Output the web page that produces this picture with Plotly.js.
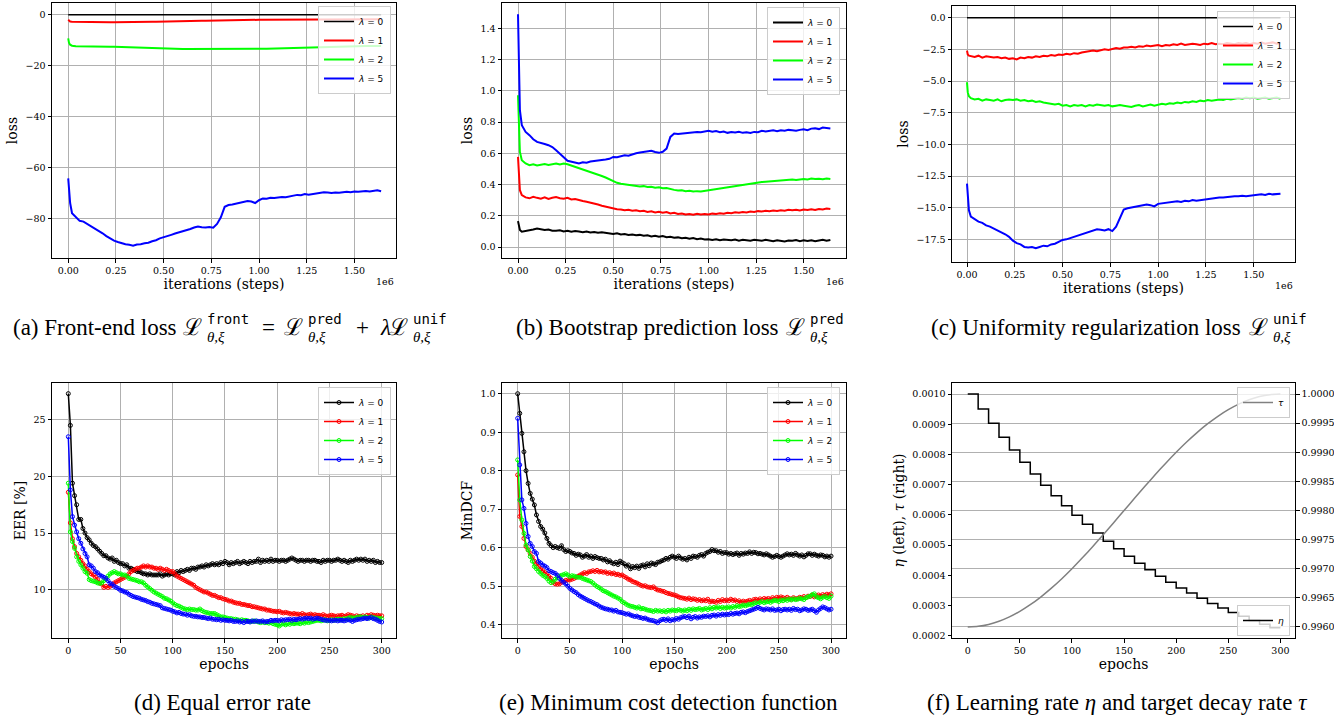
<!DOCTYPE html>
<html><head><meta charset="utf-8">
<script src="https://cdn.plot.ly/plotly-3.0.1.min.js"></script>
<style>html,body{margin:0;padding:0;background:#fff}#chart{width:1334px;height:720px}</style>
</head><body><div id="chart"></div>
<script>
// ---------- iterations (x 1e6) for the loss curves ----------
const ITER = [0,0.004,0.01,0.02,
0.04,0.06,0.08,0.10,0.12,0.14,0.16,0.18,0.20,0.22,
0.24,0.26,0.28,0.30,0.32,0.34,0.36,0.38,0.40,0.42,
0.44,0.46,0.48,0.50,0.52,0.54,0.56,0.58,0.60,0.62,
0.64,0.66,0.68,0.70,0.72,0.74,0.76,0.78,0.80,0.82,
0.84,0.86,0.88,0.90,0.92,0.94,0.96,0.98,1.00,1.02,
1.04,1.06,1.08,1.10,1.12,1.14,1.16,1.18,1.20,1.22,
1.24,1.26,1.28,1.30,1.32,1.34,1.36,1.38,1.40,1.42,
1.44,1.46,1.48,1.50,1.52,1.54,1.56,1.58,1.60,1.62,
1.64];
const ZERO_ITER = [0, 1.64];
const ZERO_LOSS = [0, 0];

// (a) front-end loss
const FRONT_L1 = [-2.0,-2.4,-2.65,-2.75,
-2.8,-2.75,-2.8,-2.85,-2.8,-2.85,-2.9,-2.85,-2.9,-2.95,
-2.95,-2.9,-2.95,-2.9,-2.9,-2.85,-2.85,-2.8,-2.8,-2.75,
-2.75,-2.75,-2.7,-2.7,-2.7,-2.65,-2.6,-2.6,-2.55,-2.55,
-2.5,-2.5,-2.45,-2.4,-2.4,-2.35,-2.3,-2.25,-2.2,-2.2,
-2.15,-2.15,-2.1,-2.1,-2.1,-2.05,-2.05,-2.0,-2.0,-1.98,
-1.98,-1.95,-1.95,-1.93,-1.92,-1.9,-1.9,-1.88,-1.88,-1.87,
-1.86,-1.85,-1.85,-1.84,-1.83,-1.83,-1.82,-1.82,-1.81,-1.8,
-1.8,-1.8,-1.79,-1.79,-1.78,-1.78,-1.78,-1.77,-1.77,-1.77,
-1.77];
const FRONT_L2 = [-9.3,-11.0,-11.8,-12.2,
-12.4,-12.45,-12.5,-12.5,-12.55,-12.5,-12.6,-12.55,-12.6,-12.6,
-12.6,-12.65,-12.7,-12.7,-12.8,-12.9,-13.0,-13.1,-13.2,-13.25,
-13.3,-13.4,-13.45,-13.5,-13.5,-13.55,-13.5,-13.5,-13.5,-13.45,
-13.45,-13.4,-13.45,-13.4,-13.45,-13.5,-13.5,-13.55,-13.5,-13.55,
-13.6,-13.6,-13.65,-13.6,-13.6,-13.55,-13.5,-13.45,-13.4,-13.4,
-13.35,-13.3,-13.3,-13.3,-13.2,-13.15,-13.1,-13.05,-13.0,-12.95,
-12.9,-12.85,-12.8,-12.8,-12.7,-12.65,-12.6,-12.55,-12.5,-12.5,
-12.45,-12.4,-12.35,-12.3,-12.3,-12.3,-12.3,-12.3,-12.25,-12.3,
-12.3];
const FRONT_L5 = [-64.3,-68,-74,-78,
-79.5,-81.0,-81.3,-82.2,-83.0,-84.0,-84.8,-85.9,-87.0,-88.0,
-88.8,-89.3,-89.9,-90.2,-90.4,-90.8,-90.3,-90.2,-89.8,-89.6,
-89.0,-88.6,-87.9,-87.5,-86.9,-86.5,-86.0,-85.6,-85.3,-84.9,
-84.2,-83.6,-83.2,-83.5,-83.6,-83.4,-83.7,-82.2,-79.6,-75.5,
-74.8,-74.6,-74.3,-73.9,-73.6,-73.2,-73.4,-74.0,-72.9,-72.2,
-72.3,-71.9,-72.0,-71.8,-71.6,-71.7,-71.3,-71.0,-70.8,-70.9,
-70.5,-70.7,-70.4,-70.3,-70.1,-69.8,-69.9,-70.1,-69.9,-70.0,
-69.8,-69.6,-69.8,-69.5,-69.6,-69.4,-69.3,-69.5,-69.2,-69.0,
-69.4];

// (b) bootstrap prediction loss
const PRED_L0 = [0.166,0.13,0.109,0.098,
0.102,0.104,0.112,0.119,0.115,0.109,0.112,0.105,0.104,0.108,
0.1,0.104,0.098,0.102,0.099,0.095,0.1,0.094,0.097,0.092,
0.095,0.09,0.086,0.083,0.088,0.08,0.083,0.077,0.08,0.076,
0.078,0.072,0.075,0.068,0.072,0.066,0.07,0.063,0.066,0.06,
0.062,0.057,0.06,0.053,0.058,0.05,0.054,0.048,0.05,0.046,
0.05,0.044,0.049,0.046,0.043,0.048,0.041,0.046,0.045,0.04,
0.047,0.043,0.04,0.046,0.042,0.038,0.044,0.04,0.036,0.042,
0.04,0.045,0.038,0.043,0.039,0.044,0.037,0.042,0.046,0.04,
0.045];
const PRED_L1 = [0.577,0.45,0.364,0.333,
0.318,0.312,0.322,0.315,0.31,0.318,0.308,0.315,0.32,0.312,
0.31,0.315,0.305,0.308,0.3,0.295,0.29,0.285,0.278,0.272,
0.265,0.258,0.252,0.247,0.242,0.24,0.235,0.238,0.232,0.235,
0.23,0.232,0.225,0.229,0.222,0.226,0.22,0.224,0.215,0.219,
0.212,0.215,0.208,0.212,0.207,0.213,0.209,0.212,0.208,0.214,
0.212,0.216,0.213,0.219,0.216,0.222,0.219,0.224,0.222,0.228,
0.225,0.23,0.228,0.233,0.23,0.234,0.231,0.236,0.233,0.238,
0.235,0.239,0.234,0.24,0.237,0.242,0.238,0.244,0.24,0.246,
0.243];
const PRED_L2 = [0.972,0.75,0.609,0.556,
0.535,0.524,0.53,0.522,0.528,0.532,0.525,0.53,0.535,0.528,
0.535,0.53,0.522,0.514,0.505,0.498,0.49,0.483,0.475,0.467,
0.455,0.445,0.432,0.42,0.411,0.405,0.402,0.398,0.395,0.392,
0.388,0.39,0.384,0.386,0.38,0.383,0.376,0.378,0.37,0.366,
0.362,0.364,0.358,0.36,0.355,0.358,0.356,0.36,0.362,0.366,
0.37,0.373,0.376,0.381,0.384,0.388,0.392,0.398,0.403,0.405,
0.409,0.412,0.416,0.418,0.42,0.422,0.42,0.425,0.428,0.43,
0.432,0.429,0.434,0.436,0.433,0.438,0.435,0.437,0.434,0.438,
0.435];
const PRED_L5 = [1.49,1.2,0.876,0.78,
0.737,0.716,0.69,0.673,0.668,0.66,0.652,0.64,0.62,0.6,
0.575,0.552,0.545,0.539,0.535,0.543,0.54,0.548,0.55,0.552,
0.558,0.56,0.565,0.577,0.575,0.58,0.588,0.585,0.594,0.6,
0.605,0.609,0.612,0.616,0.608,0.603,0.61,0.63,0.705,0.727,
0.724,0.727,0.73,0.731,0.734,0.737,0.735,0.74,0.744,0.738,
0.742,0.735,0.74,0.731,0.736,0.733,0.738,0.731,0.735,0.73,
0.737,0.735,0.744,0.74,0.745,0.748,0.742,0.748,0.745,0.75,
0.748,0.744,0.75,0.754,0.748,0.758,0.761,0.755,0.765,0.76,
0.759];

// (c) uniformity regularization loss
const UNIF_L1 = [-2.6,-2.9,-3.0,-3.05,
-3.1,-3.0,-3.15,-3.05,-3.1,-3.15,-3.1,-3.2,-3.15,-3.25,
-3.2,-3.3,-3.15,-3.2,-3.1,-3.15,-3.05,-3.1,-3.0,-3.05,
-2.95,-3.0,-2.9,-2.95,-2.85,-2.9,-2.8,-2.85,-2.75,-2.7,
-2.7,-2.6,-2.65,-2.55,-2.5,-2.55,-2.45,-2.4,-2.45,-2.35,
-2.35,-2.3,-2.35,-2.25,-2.3,-2.2,-2.25,-2.2,-2.15,-2.25,
-2.15,-2.2,-2.1,-2.15,-2.05,-2.15,-2.1,-2.05,-2.1,-2.15,
-2.05,-2.1,-2.0,-2.1,-2.05,-2.1,-2.0,-2.05,-2.1,-2.0,
-2.05,-2.0,-2.1,-2.0,-2.05,-1.95,-2.05,-2.0,-1.95,-2.05,
-2.0];
const UNIF_L2 = [-5.1,-5.9,-6.2,-6.35,
-6.45,-6.4,-6.55,-6.45,-6.5,-6.55,-6.45,-6.6,-6.5,-6.45,
-6.5,-6.45,-6.55,-6.5,-6.6,-6.55,-6.65,-6.6,-6.7,-6.75,
-6.75,-6.85,-6.8,-6.95,-6.9,-7.0,-6.9,-6.95,-6.9,-7.0,
-6.9,-6.95,-6.85,-6.9,-6.95,-6.9,-7.0,-6.95,-6.9,-6.95,
-7.0,-7.05,-6.95,-6.9,-7.0,-6.9,-6.85,-6.95,-6.85,-6.8,
-6.85,-6.75,-6.8,-6.7,-6.75,-6.65,-6.7,-6.6,-6.65,-6.55,
-6.6,-6.5,-6.55,-6.5,-6.45,-6.5,-6.4,-6.45,-6.4,-6.35,
-6.4,-6.3,-6.35,-6.3,-6.4,-6.35,-6.3,-6.4,-6.35,-6.3,
-6.4];
const UNIF_L5 = [-13.1,-14.3,-15.2,-15.7,
-15.9,-16.1,-16.2,-16.4,-16.5,-16.65,-16.8,-16.9,-17.1,-17.3,
-17.6,-17.8,-17.9,-18.1,-18.15,-18.1,-18.2,-18.1,-18.0,-18.05,
-17.9,-17.85,-17.7,-17.55,-17.5,-17.4,-17.3,-17.25,-17.1,-17.05,
-16.9,-16.8,-16.7,-16.75,-16.8,-16.7,-16.85,-16.5,-15.8,-15.15,
-15.05,-15.0,-14.95,-14.85,-14.8,-14.75,-14.8,-14.9,-14.7,-14.65,
-14.6,-14.6,-14.55,-14.5,-14.55,-14.45,-14.5,-14.4,-14.45,-14.4,
-14.35,-14.3,-14.3,-14.25,-14.2,-14.2,-14.15,-14.15,-14.1,-14.1,
-14.05,-14.1,-14.05,-14.0,-14.0,-13.95,-14.0,-13.9,-13.95,-13.9,
-13.9];

// ---------- epochs for EER / MinDCF ----------
const EPOCHS = [0,2,4,6,8,10,12,14,16,18,
20,22,24,26,28,30,32,34,36,38,
40,42,44,46,48,50,52,54,56,58,
60,62,64,66,68,70,72,74,76,78,
80,82,84,86,88,90,92,94,96,98,
100,102,104,106,108,110,112,114,116,118,
120,122,124,126,128,130,132,134,136,138,
140,142,144,146,148,150,152,154,156,158,
160,162,164,166,168,170,172,174,176,178,
180,182,184,186,188,190,192,194,196,198,
200,202,204,206,208,210,212,214,216,218,
220,222,224,226,228,230,232,234,236,238,
240,242,244,246,248,250,252,254,256,258,
260,262,264,266,268,270,272,274,276,278,
280,282,284,286,288,290,292,294,296,298,
300];

// (d) EER [%]
const EER_L0 = [27.3,24.5,19.4,18.3,17.5,16.2,16.2,15.4,15.0,14.6,
14.4,14.1,13.9,13.8,13.6,13.4,13.2,13.0,13.0,12.8,
12.7,12.8,12.5,12.6,12.4,12.3,12.3,12.1,12.2,11.9,
11.9,11.8,11.7,11.6,11.6,11.5,11.4,11.4,11.3,11.4,
11.3,11.3,11.3,11.3,11.4,11.2,11.3,11.4,11.3,11.4,
11.4,11.3,11.6,11.5,11.7,11.6,11.7,11.8,11.7,11.9,
11.9,11.8,12.0,12.0,12.1,12.0,12.2,12.1,12.2,12.3,
12.2,12.3,12.2,12.4,12.3,12.5,12.4,12.2,12.4,12.3,
12.4,12.5,12.3,12.4,12.5,12.4,12.3,12.5,12.4,12.5,
12.5,12.7,12.4,12.6,12.5,12.6,12.5,12.7,12.5,12.6,
12.6,12.5,12.6,12.6,12.5,12.6,12.7,12.8,12.7,12.6,
12.5,12.6,12.6,12.5,12.6,12.6,12.5,12.6,12.6,12.5,
12.5,12.4,12.6,12.5,12.6,12.6,12.5,12.6,12.6,12.7,
12.6,12.5,12.6,12.5,12.4,12.6,12.5,12.6,12.7,12.6,
12.7,12.6,12.7,12.5,12.6,12.5,12.6,12.4,12.5,12.4,
12.4];
const EER_L1 = [18.6,15.9,14.5,13.8,13.2,12.9,12.6,12.3,12.1,11.8,
11.6,11.4,11.3,11.1,10.9,10.6,10.5,10.2,10.3,10.2,
10.3,10.4,10.6,10.7,10.8,10.9,11.0,11.1,11.2,11.4,
11.6,11.7,11.8,11.9,11.9,12.0,12.1,12.0,12.1,12.0,
12.0,11.9,11.9,11.8,11.9,11.8,11.7,11.8,11.7,11.6,
11.6,11.4,11.2,11.1,11.0,10.9,10.8,10.7,10.6,10.5,
10.4,10.2,10.1,10.0,9.9,9.8,9.8,9.7,9.6,9.5,
9.5,9.4,9.3,9.3,9.2,9.15,9.1,9.0,9.0,8.9,
8.85,8.8,8.8,8.7,8.7,8.65,8.6,8.6,8.5,8.5,
8.45,8.4,8.35,8.3,8.3,8.2,8.2,8.15,8.1,8.1,
8.05,8.1,8.0,7.95,8.0,7.95,7.9,7.85,7.9,7.85,
7.85,7.8,7.9,7.8,7.75,7.8,7.85,7.75,7.8,7.75,
7.75,7.7,7.8,7.7,7.65,7.7,7.75,7.7,7.65,7.7,
7.7,7.75,7.65,7.7,7.8,7.75,7.7,7.6,7.7,7.65,
7.65,7.7,7.6,7.75,7.7,7.8,7.75,7.7,7.75,7.7,
7.7];
const EER_L2 = [19.4,15.1,14.25,13.65,12.9,12.5,12.2,11.9,11.6,11.45,
10.9,10.8,10.75,10.7,10.6,10.55,10.6,10.8,10.9,11.2,
11.4,11.5,11.6,11.5,11.4,11.4,11.3,11.3,11.2,11.0,
10.95,10.9,10.85,10.8,10.7,10.7,10.6,10.4,10.25,10.1,
9.95,9.8,9.7,9.6,9.5,9.4,9.25,9.2,9.1,9.0,
8.85,8.7,8.6,8.55,8.45,8.35,8.3,8.25,8.3,8.25,
8.25,8.2,8.2,8.3,8.15,8.05,8.0,7.95,7.9,7.9,
7.9,7.8,7.7,7.6,7.6,7.55,7.5,7.45,7.45,7.4,
7.4,7.35,7.3,7.35,7.3,7.3,7.25,7.2,7.2,7.25,
7.2,7.15,7.1,7.15,7.1,7.1,7.05,7.1,7.0,6.95,
6.9,6.8,6.95,7.0,6.9,7.0,6.95,7.05,7.0,7.05,
7.05,7.0,7.1,7.05,7.15,7.1,7.15,7.2,7.25,7.3,
7.3,7.25,7.3,7.35,7.25,7.3,7.35,7.3,7.35,7.4,
7.4,7.35,7.45,7.4,7.5,7.55,7.5,7.5,7.55,7.6,
7.6,7.55,7.6,7.55,7.5,7.6,7.55,7.5,7.5,7.45,
7.45];
const EER_L5 = [23.5,18.8,16.45,15.7,15.1,14.5,14.1,13.6,13.2,12.9,
12.2,12.1,11.9,11.6,11.5,11.3,11.2,11.1,11.0,10.8,
10.55,10.5,10.3,10.2,10.1,9.95,9.9,9.8,9.75,9.6,
9.5,9.4,9.35,9.3,9.25,9.15,9.1,9.05,8.95,8.9,
8.8,8.75,8.7,8.65,8.6,8.4,8.35,8.3,8.25,8.2,
8.1,8.05,7.95,8.0,7.9,7.85,7.85,7.75,7.8,7.7,
7.65,7.65,7.6,7.6,7.55,7.55,7.5,7.45,7.5,7.4,
7.4,7.35,7.4,7.3,7.35,7.3,7.3,7.25,7.3,7.2,
7.2,7.25,7.15,7.2,7.1,7.2,7.2,7.15,7.25,7.2,
7.25,7.2,7.2,7.25,7.15,7.2,7.2,7.3,7.25,7.3,
7.3,7.25,7.35,7.3,7.35,7.35,7.4,7.3,7.4,7.35,
7.4,7.45,7.4,7.45,7.5,7.45,7.5,7.4,7.45,7.5,
7.45,7.4,7.35,7.3,7.3,7.3,7.25,7.3,7.3,7.25,
7.3,7.3,7.25,7.3,7.35,7.3,7.2,7.3,7.35,7.4,
7.4,7.45,7.5,7.45,7.5,7.55,7.45,7.4,7.3,7.2,
7.15];

// (e) MinDCF
const DCF_L0 = [1.0,0.949,0.897,0.849,0.80,0.767,0.741,0.726,0.711,0.685,
0.668,0.655,0.648,0.638,0.624,0.611,0.605,0.60,0.603,0.60,
0.598,0.605,0.595,0.59,0.592,0.59,0.586,0.585,0.58,0.583,
0.581,0.575,0.578,0.582,0.575,0.578,0.572,0.577,0.574,0.572,
0.572,0.568,0.57,0.563,0.566,0.561,0.558,0.562,0.556,0.565,
0.561,0.558,0.552,0.555,0.545,0.551,0.548,0.552,0.546,0.553,
0.555,0.55,0.558,0.553,0.56,0.558,0.556,0.562,0.563,0.566,
0.568,0.572,0.57,0.575,0.578,0.575,0.572,0.578,0.573,0.57,
0.572,0.568,0.575,0.572,0.578,0.577,0.575,0.58,0.582,0.578,
0.585,0.588,0.59,0.595,0.592,0.592,0.588,0.59,0.585,0.587,
0.587,0.583,0.585,0.582,0.584,0.586,0.58,0.585,0.583,0.586,
0.585,0.589,0.585,0.588,0.587,0.584,0.585,0.583,0.581,0.584,
0.581,0.578,0.575,0.577,0.58,0.577,0.575,0.578,0.581,0.584,
0.581,0.583,0.58,0.585,0.581,0.578,0.581,0.576,0.58,0.584,
0.584,0.58,0.583,0.58,0.578,0.581,0.58,0.576,0.578,0.575,
0.578];
const DCF_L1 = [0.789,0.681,0.655,0.624,0.603,0.594,0.585,0.575,0.565,0.558,
0.551,0.545,0.54,0.535,0.532,0.525,0.52,0.51,0.506,0.505,
0.506,0.51,0.512,0.515,0.516,0.516,0.518,0.52,0.523,0.526,
0.529,0.532,0.535,0.533,0.537,0.538,0.54,0.538,0.541,0.537,
0.538,0.536,0.537,0.533,0.535,0.532,0.534,0.53,0.531,0.528,
0.529,0.525,0.522,0.518,0.516,0.512,0.51,0.508,0.505,0.502,
0.50,0.501,0.498,0.497,0.496,0.498,0.493,0.49,0.489,0.487,
0.486,0.483,0.481,0.48,0.478,0.477,0.475,0.472,0.47,0.469,
0.468,0.466,0.469,0.465,0.467,0.466,0.463,0.465,0.462,0.464,
0.462,0.466,0.459,0.461,0.46,0.458,0.463,0.46,0.465,0.462,
0.464,0.462,0.466,0.463,0.464,0.46,0.462,0.458,0.461,0.459,
0.461,0.463,0.46,0.465,0.466,0.463,0.467,0.464,0.468,0.466,
0.468,0.465,0.47,0.467,0.471,0.469,0.472,0.47,0.468,0.471,
0.468,0.466,0.47,0.467,0.468,0.471,0.469,0.473,0.47,0.474,
0.473,0.476,0.472,0.475,0.477,0.474,0.478,0.476,0.479,0.477,
0.48];
const DCF_L2 = [0.828,0.724,0.672,0.637,0.607,0.594,0.577,0.565,0.551,0.545,
0.538,0.533,0.528,0.525,0.52,0.513,0.509,0.512,0.518,0.522,
0.526,0.528,0.53,0.532,0.529,0.525,0.527,0.526,0.524,0.523,
0.523,0.52,0.518,0.516,0.514,0.512,0.508,0.503,0.499,0.496,
0.492,0.488,0.486,0.483,0.48,0.477,0.474,0.472,0.469,0.466,
0.46,0.457,0.453,0.45,0.448,0.447,0.445,0.443,0.446,0.441,
0.442,0.44,0.438,0.437,0.436,0.434,0.437,0.435,0.436,0.434,
0.436,0.433,0.437,0.435,0.438,0.437,0.436,0.439,0.437,0.435,
0.438,0.436,0.44,0.437,0.441,0.439,0.44,0.442,0.438,0.44,
0.442,0.439,0.444,0.441,0.445,0.443,0.446,0.442,0.445,0.443,
0.444,0.446,0.443,0.447,0.445,0.449,0.447,0.448,0.451,0.449,
0.451,0.453,0.452,0.455,0.457,0.455,0.458,0.46,0.457,0.459,
0.46,0.458,0.461,0.463,0.462,0.46,0.464,0.462,0.465,0.463,
0.466,0.464,0.467,0.465,0.466,0.468,0.467,0.465,0.47,0.472,
0.474,0.478,0.48,0.472,0.47,0.467,0.471,0.473,0.47,0.468,
0.474];
const DCF_L5 = [0.936,0.815,0.724,0.702,0.663,0.629,0.611,0.603,0.59,0.585,
0.564,0.56,0.555,0.552,0.548,0.54,0.538,0.535,0.533,0.528,
0.52,0.515,0.51,0.506,0.50,0.494,0.49,0.486,0.483,0.478,
0.474,0.471,0.468,0.465,0.462,0.46,0.457,0.454,0.452,0.448,
0.445,0.443,0.441,0.44,0.438,0.438,0.435,0.437,0.433,0.432,
0.431,0.429,0.427,0.428,0.425,0.423,0.421,0.422,0.419,0.418,
0.416,0.417,0.414,0.412,0.411,0.41,0.408,0.405,0.41,0.413,
0.414,0.411,0.415,0.41,0.413,0.412,0.416,0.414,0.418,0.42,
0.421,0.418,0.422,0.415,0.419,0.421,0.417,0.42,0.419,0.422,
0.421,0.423,0.42,0.424,0.425,0.422,0.426,0.424,0.427,0.425,
0.427,0.426,0.429,0.427,0.429,0.43,0.428,0.432,0.433,0.431,
0.434,0.436,0.438,0.44,0.442,0.445,0.442,0.44,0.438,0.441,
0.44,0.438,0.441,0.437,0.438,0.44,0.436,0.439,0.44,0.438,
0.44,0.437,0.442,0.439,0.44,0.436,0.438,0.441,0.44,0.437,
0.438,0.44,0.436,0.432,0.438,0.442,0.446,0.444,0.441,0.438,
0.44];

// (f) learning rate eta (left) and target decay rate tau (right)
const SCHED_EPOCHS = [0,10,20,30,40,50,60,70,80,90,100,110,120,130,140,150,
160,170,180,190,200,210,220,230,240,250,260,270,280,290,300];
const ETA = [0.0010,0.00095,0.000903,0.000857,0.000815,0.000774,0.000735,0.000698,
0.000663,0.000630,0.000599,0.000569,0.000540,0.000513,0.000488,0.000463,
0.000440,0.000418,0.000397,0.000377,0.000358,0.000341,0.000324,0.000307,
0.000292,0.000277,0.000264,0.000250,0.000238,0.000226,0.000226];
const TAU = [0.996000,0.996011,0.996044,0.996098,0.996173,0.996268,0.996382,0.996514,
0.996662,0.996824,0.997000,0.997187,0.997382,0.997584,0.997791,0.998000,
0.998209,0.998416,0.998618,0.998813,0.999000,0.999176,0.999338,0.999486,
0.999618,0.999732,0.999827,0.999902,0.999956,0.999989,1.000000];

const LAMBDA_NAMES = ['<i>λ</i> = 0','<i>λ</i> = 1','<i>λ</i> = 2','<i>λ</i> = 5'];
const COLORS = ['#000000','#ff0000','#00ff00','#0000ff'];

// ---------- traces ----------
function lossTrace(x, y, k, xa, ya, lg, w) {
  return {type:'scatter', mode:'lines', x:x, y:y, name:LAMBDA_NAMES[k],
    line:{color:COLORS[k], width:w || 2}, xaxis:xa, yaxis:ya, legend:lg, showlegend:true};
}
function epochTrace(y, k, xa, ya, lg) {
  return {type:'scatter', mode:'lines+markers', x:EPOCHS, y:y, name:LAMBDA_NAMES[k],
    line:{color:COLORS[k], width:1.5},
    marker:{symbol:'circle-open', size:4, color:COLORS[k], line:{width:1, color:COLORS[k]}},
    xaxis:xa, yaxis:ya, legend:lg, showlegend:true};
}
const data = [
  lossTrace(ZERO_ITER, ZERO_LOSS, 0, 'x', 'y', 'legend', 1.5),
  lossTrace(ITER, FRONT_L1, 1, 'x', 'y', 'legend'),
  lossTrace(ITER, FRONT_L2, 2, 'x', 'y', 'legend'),
  lossTrace(ITER, FRONT_L5, 3, 'x', 'y', 'legend'),
  lossTrace(ITER, PRED_L0, 0, 'x2', 'y2', 'legend2'),
  lossTrace(ITER, PRED_L1, 1, 'x2', 'y2', 'legend2'),
  lossTrace(ITER, PRED_L2, 2, 'x2', 'y2', 'legend2'),
  lossTrace(ITER, PRED_L5, 3, 'x2', 'y2', 'legend2'),
  lossTrace(ZERO_ITER, ZERO_LOSS, 0, 'x3', 'y3', 'legend3', 1.5),
  lossTrace(ITER, UNIF_L1, 1, 'x3', 'y3', 'legend3'),
  lossTrace(ITER, UNIF_L2, 2, 'x3', 'y3', 'legend3'),
  lossTrace(ITER, UNIF_L5, 3, 'x3', 'y3', 'legend3'),
  epochTrace(EER_L0, 0, 'x4', 'y4', 'legend4'),
  epochTrace(EER_L1, 1, 'x4', 'y4', 'legend4'),
  epochTrace(EER_L2, 2, 'x4', 'y4', 'legend4'),
  epochTrace(EER_L5, 3, 'x4', 'y4', 'legend4'),
  epochTrace(DCF_L0, 0, 'x5', 'y5', 'legend5'),
  epochTrace(DCF_L1, 1, 'x5', 'y5', 'legend5'),
  epochTrace(DCF_L2, 2, 'x5', 'y5', 'legend5'),
  epochTrace(DCF_L5, 3, 'x5', 'y5', 'legend5'),
  {type:'scatter', mode:'lines', x:SCHED_EPOCHS, y:ETA, name:'<i>η</i>',
   line:{color:'#000000', width:1.5, shape:'hv'}, xaxis:'x6', yaxis:'y6', legend:'legend7', showlegend:true},
  {type:'scatter', mode:'lines', x:SCHED_EPOCHS, y:TAU, name:'<i>τ</i>',
   line:{color:'#808080', width:1.5, shape:'spline', smoothing:0.6}, xaxis:'x6', yaxis:'y7', legend:'legend6', showlegend:true}
];

// ---------- layout ----------
const W = 1334, H = 720;
const px = v => v / W;
const py = v => 1 - v / H;
const SERIF = '"DejaVu Serif", "Liberation Serif", serif';
const TIMES = '"Liberation Serif", "Times New Roman", Times, serif';
const SANS = '"DejaVu Sans", "Liberation Sans", sans-serif';
const MONO = '"DejaVu Sans Mono", "Liberation Mono", monospace';
const TICKFONT = {family:SERIF, size:9.5, color:'#000'};
const TITLEFONT = {family:SERIF, size:14, color:'#000'};
function axis(o) {
  const a = {showline:true, linecolor:'#000', linewidth:1, mirror:true,
    ticks:'outside', ticklen:3.5, tickwidth:1, tickcolor:'#000',
    showgrid:true, gridcolor:'#b0b0b0', gridwidth:1, zeroline:false,
    tickfont:TICKFONT, automargin:false, fixedrange:true};
  Object.assign(a, o.opts || {});
  if (o.title) a.title = {text:o.title, font:TITLEFONT, standoff:o.standoff || 4};
  return a;
}
function legendBox(x, y, yanchor) {
  return {x:x, y:y, xanchor:'right', yanchor:yanchor || 'top', xref:'paper', yref:'paper',
    bgcolor:'rgba(255,255,255,0.8)', bordercolor:'#cccccc', borderwidth:1,
    font:{family:SANS, size:9, color:'#000'}, itemwidth:30, tracegroupgap:0};
}
const TOP = [py(258), py(3)];
const TOPC = [py(262), py(6)];
const BOT = [py(638), py(383)];
const COLA = [px(52), px(396)];
const COLB = [px(502), px(846)];
const COLC = [px(952), px(1295)];

const layout = {
  width:W, height:H, margin:{l:0, r:0, t:0, b:0}, paper_bgcolor:'#fff', plot_bgcolor:'#fff',
  showlegend:true,
  font:{family:SERIF, color:'#000'},
  xaxis: axis({title:'iterations (steps)', opts:{domain:COLA, anchor:'y', range:[-0.085,1.718], dtick:0.25, tick0:0, tickformat:'.2f'}}),
  yaxis: axis({title:'loss', opts:{domain:TOP, anchor:'x', range:[-95.6,4.6], dtick:20, tick0:0}}),
  xaxis2: axis({title:'iterations (steps)', opts:{domain:COLB, anchor:'y2', range:[-0.084,1.722], dtick:0.25, tick0:0, tickformat:'.2f'}}),
  yaxis2: axis({title:'loss', opts:{domain:TOP, anchor:'x2', range:[-0.070,1.562], dtick:0.2, tick0:0, tickformat:'.1f'}}),
  xaxis3: axis({title:'iterations (steps)', opts:{domain:COLC, anchor:'y3', range:[-0.0785,1.716], dtick:0.25, tick0:0, tickformat:'.2f'}}),
  yaxis3: axis({title:'loss', opts:{domain:TOPC, anchor:'x3', range:[-19.29,0.924], dtick:2.5, tick0:0, tickformat:'.1f'}}),
  xaxis4: axis({title:'epochs', opts:{domain:COLA, anchor:'y4', range:[-15.6,313.7], dtick:50, tick0:0}}),
  yaxis4: axis({title:'EER [%]', opts:{domain:BOT, anchor:'x4', range:[5.74,28.24], dtick:5, tick0:0}}),
  xaxis5: axis({title:'epochs', opts:{domain:COLB, anchor:'y5', range:[-15.0,314.3], dtick:50, tick0:0}}),
  yaxis5: axis({title:'MinDCF', opts:{domain:BOT, anchor:'x5', range:[0.3652,1.0278], dtick:0.1, tick0:0, tickformat:'.1f'}}),
  xaxis6: axis({title:'epochs', opts:{domain:COLC, anchor:'y6', range:[-15.1,314.0], dtick:50, tick0:0, showgrid:false}}),
  yaxis6: axis({title:'<i>η</i> (left), <i>τ</i> (right)', opts:{domain:BOT, anchor:'x6', range:[0.0001924,0.0010364], dtick:0.0001, tick0:0, tickformat:'.4f', showgrid:false, mirror:false}}),
  yaxis7: axis({opts:{domain:BOT, anchor:'x6', overlaying:'y6', side:'right', range:[0.995811,1.000189], dtick:0.0005, tick0:0.996, tickformat:'.4f', showgrid:true, mirror:false}}),
  legend: legendBox(px(391), py(6)),
  legend2: legendBox(px(840), py(7)),
  legend3: legendBox(px(1290), py(11)),
  legend4: legendBox(px(391), py(387)),
  legend5: legendBox(px(840), py(387)),
  legend6: legendBox(px(1290), py(387)),
  legend7: legendBox(px(1290), py(636), 'bottom'),
  annotations: []
};

// ---------- captions (sub-figure labels), pieces so that super/subscripts stack ----------
const CAP = 23, SUPSZ = 14, SUBSZ = 15;
function note(x, y, text, anchor, font) {
  layout.annotations.push({xref:'paper', yref:'paper', x:px(x), y:py(y), xanchor:anchor, yanchor:'middle',
    showarrow:false, text:text, font:Object.assign({color:'#000'}, font)});
}
const capFont = {family:TIMES, size:CAP};
const capItal = {family:TIMES, size:CAP, style:'italic'};
const supFont = {family:MONO, size:SUPSZ};
const subFont = {family:TIMES, size:SUBSZ, style:'italic'};
function scriptL(xEnd, sup, yMid) {
  note(xEnd, yMid, 'ℒ', 'right', capFont);
  note(xEnd + 1, yMid - 9.5, sup, 'left', supFont);
  note(xEnd + 1, yMid + 9, 'θ,ξ', 'left', subFont);
}
const TOPCAP_Y = 328, BOTCAP_Y = 702;
// (a)
note(179, TOPCAP_Y, '(a) Front-end loss', 'right', capFont);
scriptL(204, 'front', TOPCAP_Y);
note(268, TOPCAP_Y, '=', 'center', capFont);
scriptL(305, 'pred', TOPCAP_Y);
note(362, TOPCAP_Y, '+', 'center', capFont);
note(385, TOPCAP_Y, 'λ', 'center', capItal);
scriptL(410, 'unif', TOPCAP_Y);
// (b)
note(781, TOPCAP_Y, '(b) Bootstrap prediction loss', 'right', capFont);
scriptL(807, 'pred', TOPCAP_Y);
// (c)
note(1243, TOPCAP_Y, '(c) Uniformity regularization loss', 'right', capFont);
scriptL(1270, 'unif', TOPCAP_Y);
// (d)-(f)
note(222, BOTCAP_Y, '(d) Equal error rate', 'center', capFont);
note(668, BOTCAP_Y, '(e) Minimum cost detection function', 'center', capFont);
note(1117, BOTCAP_Y, '(f) Learning rate <i>η</i> and target decay rate <i>τ</i>', 'center', capFont);

// scientific offset labels of the iteration axes
[[396,282],[846,282],[1295,286]].forEach(p => note(p[0], p[1], '1e6', 'right', {family:SERIF, size:9.5}));

Plotly.newPlot('chart', data, layout, {displayModeBar:false, staticPlot:true});
</script></body></html>
